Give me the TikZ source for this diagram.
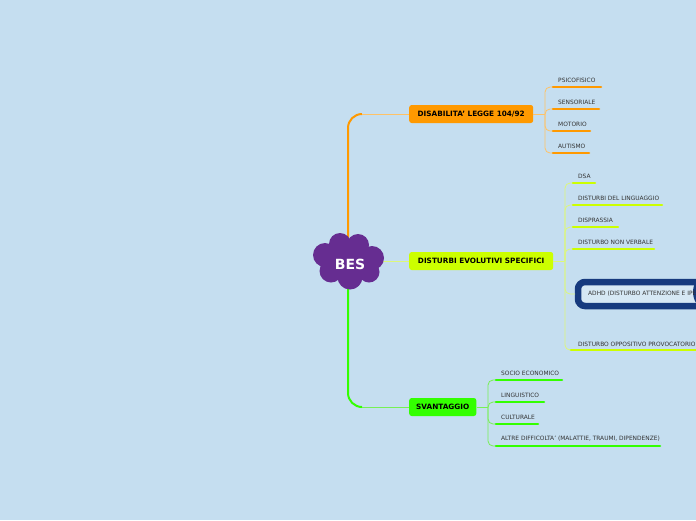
\documentclass[tikz,border=0pt]{standalone}
\usepackage{fontspec}
\setmainfont{DejaVu Sans}
\definecolor{bg}{HTML}{C5DEF0}
\definecolor{bespurple}{HTML}{662D91}
\definecolor{orng}{HTML}{FF9900}
\definecolor{orngl}{HTML}{FFC266}
\definecolor{lime}{HTML}{CCFF00}
\definecolor{limel}{HTML}{DDF77A}
\definecolor{grn}{HTML}{33FF00}
\definecolor{grnl}{HTML}{77F055}
\definecolor{adhdblue}{HTML}{163A7E}
\definecolor{txt}{HTML}{333333}
\tikzset{
  topic/.style={rounded corners=2.5pt, minimum height=18pt, inner xsep=7pt, inner ysep=0pt,
    font=\fontsize{7.3}{8}\selectfont\bfseries, text=black, anchor=west},
  sub/.style={font=\fontsize{5.9}{7}\selectfont, text=txt, anchor=west, inner sep=0pt},
  uline/.style={line width=2.6pt, line cap=round},
  branch/.style={line width=0.8pt, rounded corners=5pt},
  trunk/.style={line width=2pt},
}
\begin{document}
\begin{tikzpicture}[x=1pt,y=-1pt]
\fill[bg] (0,0) rectangle (696,520);
\useasboundingbox (0,0) rectangle (696,520);
\clip (0,0) rectangle (696,520);

% ---------- topic nodes ----------
\node[topic, fill=orng, minimum width=124pt] (dis) at (409,114) {DISABILITA' LEGGE 104/92};
\node[topic, fill=lime, minimum width=144pt] (des) at (409,261) {DISTURBI EVOLUTIVI SPECIFICI};
\node[topic, fill=grn, minimum width=67pt] (sva) at (409,407) {SVANTAGGIO};

% ---------- trunks ----------
\coordinate (ctop) at (348,238);
\coordinate (cbot) at (348,286);
\coordinate (cright) at (382,261);
\draw[orng, trunk] (ctop) -- (348,128) arc[start angle=180, end angle=90, radius=14pt];
\draw[orngl, line width=0.8pt] (362,114) -- (dis.west);
\draw[grn, trunk] (cbot) -- (348,393) arc[start angle=180, end angle=270, radius=14pt];
\draw[grnl, line width=0.8pt] (362,407) -- (sva.west);
\draw[limel, line width=0.8pt] (cright) -- (des.west);

% ---------- BES cloud ----------
\begin{scope}[bespurple]
\fill (340,244) circle (11);
\fill (358,245) circle (11);
\fill (372,258) circle (12);
\fill (369,272) circle (10.5);
\fill (350,277) circle (12.5);
\fill (331,271) circle (11.5);
\fill (325,255) circle (12);
\fill (349,262) ellipse (24 and 18);
\end{scope}
\node[font=\fontsize{14}{16}\selectfont\bfseries, text=white] (bes) at (350,264) {BES};

% ---------- DISABILITA' sub items ----------
\coordinate (db) at (545,114);
\draw[orngl, line width=0.8pt] (dis.east) -- (db);
\foreach \n/\t/\y/\e in {d1/PSICOFISICO/80/601, d2/SENSORIALE/102/599, d3/MOTORIO/124/590, d4/AUTISMO/146/589}{
  \node[sub] (\n) at (558,\y) {\t};
  \coordinate (\n s) at (553,\y+7);
  \coordinate (\n e) at (\e,\y+7);
  \draw[orngl, branch] (db) |- (\n s);
  \draw[orng, uline] (\n s) -- (\n e);
}

% ---------- DES sub items ----------
\coordinate (eb) at (565,261);
\draw[limel, line width=0.8pt] (des.east) -- (eb);
\foreach \n/\t/\y/\e in {e1/DSA/176/595, e2/DISTURBI DEL LINGUAGGIO/198/662, e3/DISPRASSIA/220/618, e4/DISTURBO NON VERBALE/242/654}{
  \node[sub] (\n) at (578,\y) {\t};
  \coordinate (\n s) at (573,\y+7);
  \coordinate (\n e) at (\e,\y+7);
  \draw[limel, branch] (eb) |- (\n s);
  \draw[lime, uline] (\n s) -- (\n e);
}
\node[sub] (e6) at (578,344) {DISTURBO OPPOSITIVO PROVOCATORIO};
\coordinate (e6s) at (571,350);
\coordinate (e6e) at (700,350);
\draw[limel, branch] (eb) |- (e6s);
\draw[lime, uline] (e6s) -- (e6e);

% ADHD box
\draw[adhdblue, line width=6.5pt, rounded corners=7pt, fill=bg!70!white] (578,282) rectangle (740,306);
\fill[adhdblue] (708,292) ellipse (15 and 18);
\node[sub] (adhd) at (588,294) {ADHD (DISTURBO ATTENZIONE E IPERATTIVITA')};
\draw[limel, branch] (eb) |- (575,294);

% ---------- SVANTAGGIO sub items ----------
\coordinate (sb) at (488,407);
\draw[grnl, line width=0.8pt] (sva.east) -- (sb);
\foreach \n/\t/\y/\e in {s1/SOCIO ECONOMICO/373/562, s2/LINGUISTICO/395/544, s3/CULTURALE/417/538, s4/{ALTRE DIFFICOLTA' (MALATTIE, TRAUMI, DIPENDENZE)}/439/660}{
  \node[sub] (\n) at (501,\y) {\t};
  \coordinate (\n s) at (496,\y+7);
  \coordinate (\n e) at (\e,\y+7);
  \draw[grnl, branch] (sb) |- (\n s);
  \draw[grn, uline] (\n s) -- (\n e);
}
\end{tikzpicture}
\end{document}
